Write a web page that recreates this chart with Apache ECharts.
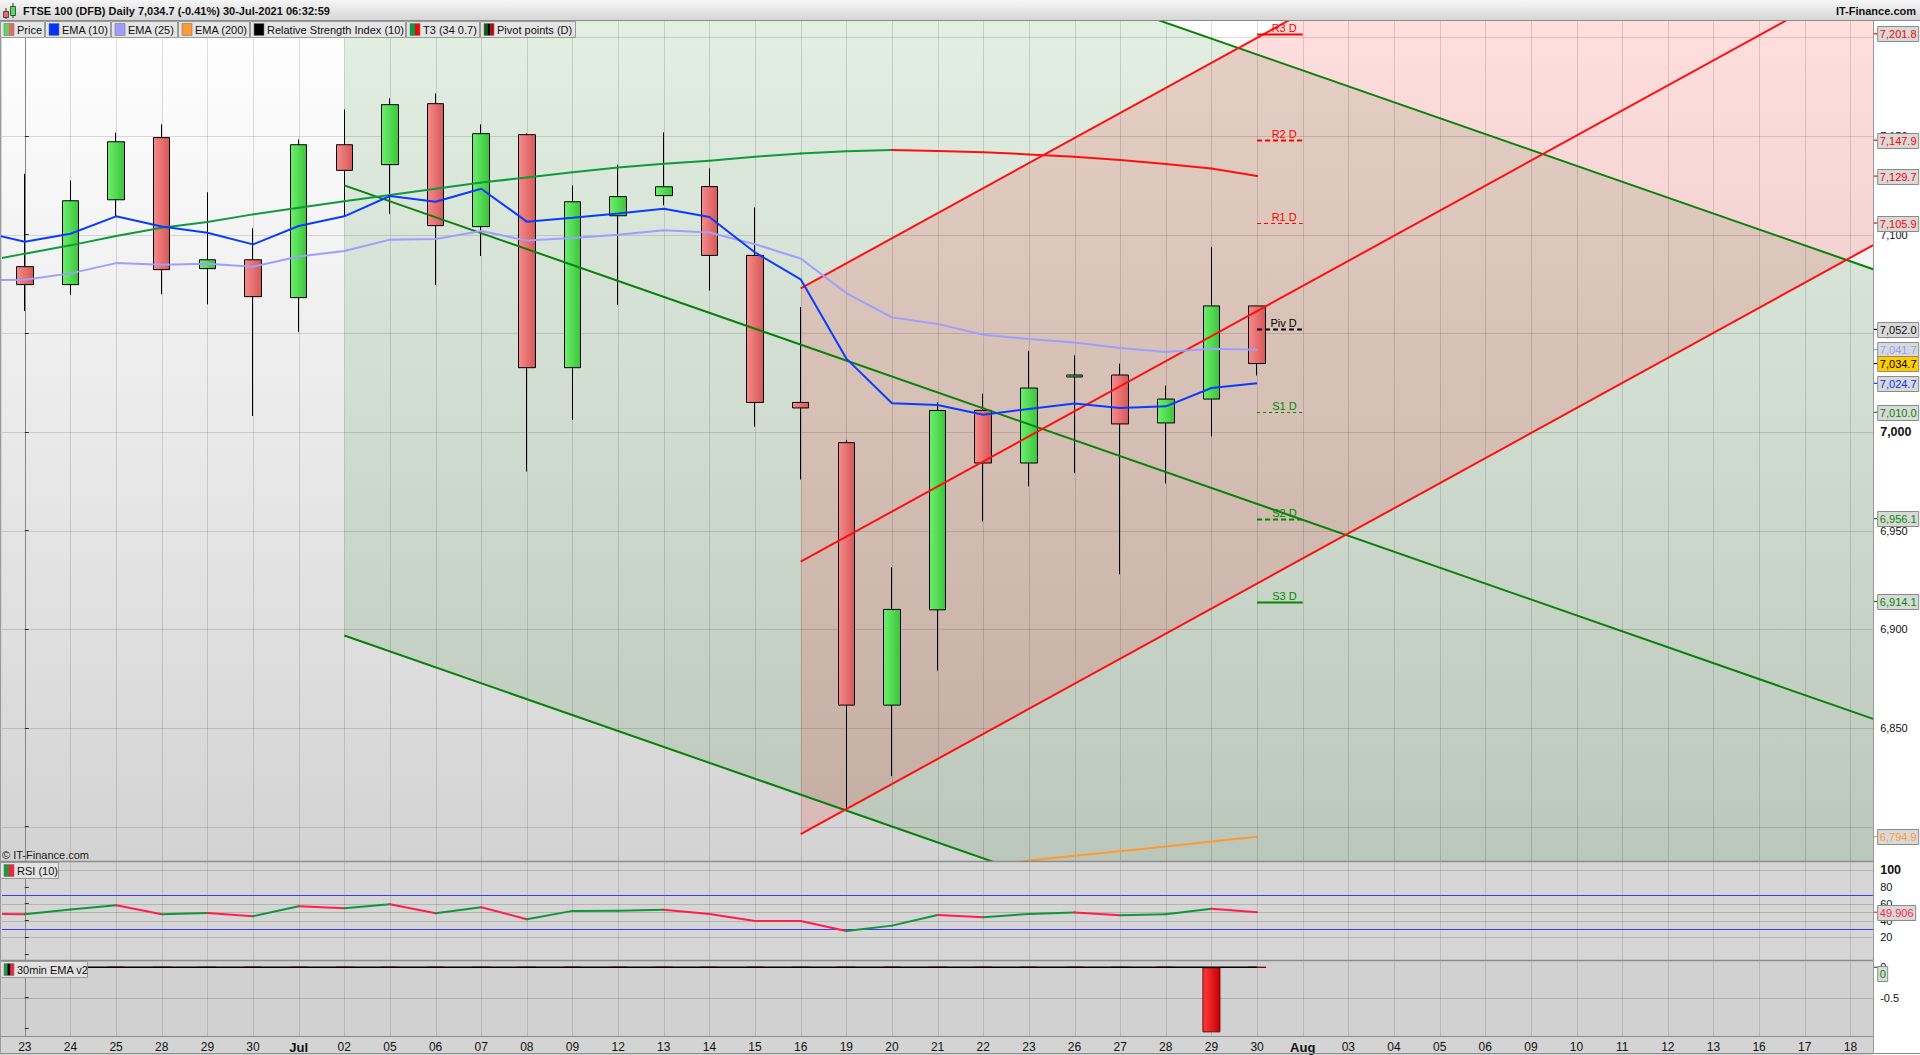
<!DOCTYPE html>
<html>
<head>
<meta charset="utf-8">
<title>FTSE 100 (DFB) Daily</title>
<script src="https://cdn.jsdelivr.net/npm/echarts@6.0.0/dist/echarts.min.js"></script>
<style>
html,body{margin:0;padding:0;background:#d4d4d4;overflow:hidden;}
#chart{width:1920px;height:1055px;}
</style>
</head>
<body>
<div id="chart"></div>
<script>
// ================= DATA =================
const tradingDays = [
  '2021-06-23','2021-06-24','2021-06-25','2021-06-28','2021-06-29','2021-06-30',
  '2021-07-01','2021-07-02','2021-07-05','2021-07-06','2021-07-07','2021-07-08','2021-07-09',
  '2021-07-12','2021-07-13','2021-07-14','2021-07-15','2021-07-16','2021-07-19','2021-07-20',
  '2021-07-21','2021-07-22','2021-07-23','2021-07-26','2021-07-27','2021-07-28','2021-07-29',
  '2021-07-30','2021-08-02','2021-08-03','2021-08-04','2021-08-05','2021-08-06','2021-08-09',
  '2021-08-10','2021-08-11','2021-08-12','2021-08-13','2021-08-16','2021-08-17','2021-08-18'
];
const candleOpen  = [7083.8,7074.7,7117.7,7149.2,7082.8,7087.3,7068.1,7145.6,7135.5,7166.4,7104.1,7150.7,7032.6,7109.6,7119.8,7124.4,7089.5,7015.0,6994.6,6861.6,6909.9,7011.0,6984.3,7027.9,7028.9,7004.6,7016.7,7063.9];
const candleClose = [7074.7,7117.2,7147.1,7082.3,7087.3,7068.6,7145.6,7132.6,7165.9,7104.6,7151.2,7032.6,7116.7,7119.3,7124.3,7089.5,7015.0,7012.2,6861.6,6910.1,7010.9,6984.3,7022.3,7028.9,7004.1,7016.7,7063.9,7034.7];
const candleLow   = [7061.3,7069.4,7109.3,7069.8,7064.7,7008.1,7050.7,7109.3,7110.5,7074.5,7089.2,6980.0,7006.1,7064.4,7114.9,7071.7,7002.7,6976.0,6808.9,6825.6,6879.1,6954.7,6972.5,6979.1,6927.9,6974.0,6997.8,7028.7];
const candleHigh  = [7130.9,7127.5,7151.7,7155.9,7121.5,7103.2,7148.3,7163.5,7169.1,7171.6,7155.9,7151.4,7125.0,7135.5,7151.9,7133.6,7113.8,7063.3,6996.0,6931.6,7015.0,7019.4,7041.2,7038.9,7034.6,7023.5,7093.9,7063.9];

// indicator positions (-1 = 22 Jun, only partly visible at the left edge)
const indicatorX = [-1,0,1,2,3,4,5,6,7,8,9,10,11,12,13,14,15,16,17,18,19,20,21,22,23,24,25,26,27];
const ema10 = [7101.8,7096.4,7100.5,7109.3,7104.2,7101.0,7095.1,7104.4,7109.3,7119.6,7116.7,7123.3,7106.6,7108.6,7110.8,7113.1,7109.0,7091.0,7077.4,7037.2,7014.6,7013.7,7008.8,7011.7,7014.4,7012.2,7013.0,7022.3,7024.7];
const ema25 = [7077.0,7077.2,7080.4,7085.6,7084.8,7085.3,7083.8,7089.0,7091.7,7097.5,7097.8,7101.9,7097.0,7098.3,7100.0,7102.2,7101.1,7095.2,7087.9,7070.4,7058.1,7054.8,7049.3,7047.1,7045.4,7042.6,7040.5,7042.2,7041.7];
const t3    = [7085.9,7090.4,7094.6,7099.3,7103.5,7106.4,7110.3,7113.7,7116.9,7120.1,7123.3,7126.4,7129.0,7131.6,7134.1,7135.9,7137.5,7139.5,7141.2,7142.3,7142.9,7142.4,7141.8,7140.7,7139.5,7137.9,7135.8,7133.5,7129.7];
const ema200X = [20,21,22,23,24,25,26,27];
const ema200  = [6778.0,6780.4,6782.8,6785.2,6787.6,6790.0,6792.5,6794.9];
const rsi10 = [48.0,47.5,53.0,58.2,47.5,49.1,45.1,57.0,54.7,59.4,48.7,55.9,41.6,51.5,51.7,52.7,47.9,39.6,39.5,27.7,34.0,46.7,44.0,47.9,49.5,46.4,47.6,53.9,49.906];
const ema30Bars = [0,0,0,0,0,0,0,0,0,0,0,0,0,0,0,0,0,0,0,0,0,0,0,0,0,0,-1.07,0];
const ema30Line = [0,0,0,0,0,0,0,0,0,0,0,0,0,0,0,0,0,0,0,0,0,0,0,0,0,0,0,0,0];

const pivotNames  = ['R3 D','R2 D','R1 D','Piv D','S1 D','S2 D','S3 D'];
const pivotValues = [7201.8,7147.9,7105.9,7052.0,7010.0,6956.1,6914.1];
const pivotFrom = 27, pivotTo = 28;

// trend channel lines: [x0, y0, x1, y1]
const greenUpper = [7, 7352.5, 40.5, 7082.5];
const greenMid   = [7, 7125.0, 40.5, 6854.6];
const greenLower = [7, 6896.9, 40.5, 6626.6];
const redUpper   = [17, 7072.8, 40.5, 7371.3];
const redMid     = [17, 6934.3, 40.5, 7232.8];
const redLower   = [17, 6796.2, 40.5, 7094.7];

const priceTicks = [6850,6900,6950,7000,7050,7100,7150];
const priceGridLevels = [6800,6850,6900,6950,7000,7050,7100,7150,7200];
const rsiTicks = [20,40,60,80,100];
const rsiGridLevels = [100,60,50,40,20];
const rsiBands = [70,30];
const emaTicks = [0,-0.5];
const emaGridLevels = [-0.5];

// ================= LAYOUT / STYLE =================
const FONT = '"Liberation Sans", Arial, Helvetica, sans-serif';
const X0 = -0.5, X1 = 40.5;
const P_MIN = 6782.6, P_MAX = 7208.3;
const R_MIN = -6.8, R_MAX = 110.7;
const E_MIN = -1.13, E_MAX = 0.12;
const GL = 2, GR = 46.8;
const monthNames = ['Jan','Feb','Mar','Apr','May','Jun','Jul','Aug','Sep','Oct','Nov','Dec'];
const LG = echarts.graphic.LinearGradient;

function tickLabel(i){
  const d = tradingDays[i];
  if (i > 0 && tradingDays[i-1].slice(5,7) !== d.slice(5,7)) return '{b|' + monthNames[+d.slice(5,7)-1] + '}';
  return d.slice(8);
}
function fmt1(v){ return v.toLocaleString('en-US',{minimumFractionDigits:1,maximumFractionDigits:1}); }
function textW(s){ let w=0; for (const ch of s) w += (ch===','||ch==='.') ? 3.1 : (ch==='-' ? 3.7 : 6.12); return w; }

function clipPolyY(pts, ymin, ymax){
  function clip(poly, inside, cross){
    const out = [];
    for (let i=0;i<poly.length;i++){
      const a = poly[i], b = poly[(i+1)%poly.length];
      const ia = inside(a), ib = inside(b);
      if (ia) out.push(a);
      if (ia !== ib) out.push(cross(a,b));
    }
    return out;
  }
  const at = (a,b,y)=>[a[0]+(b[0]-a[0])*(y-a[1])/(b[1]-a[1]), y];
  let p = clip(pts, q=>q[1]>=ymin, (a,b)=>at(a,b,ymin));
  p = clip(p, q=>q[1]<=ymax, (a,b)=>at(a,b,ymax));
  return p;
}
function channelPoly(lo, hi){
  return [[lo[0],lo[1]],[lo[2],lo[3]],[hi[2],hi[3]],[hi[0],hi[1]]];
}
function fillSeries(lo, hi, color){
  return {type:'custom', xAxisIndex:1, yAxisIndex:0, z:1, silent:true, data:[[20,7000]],
    encode:{x:0,y:1},
    renderItem:(params, api)=>{
      const pts = clipPolyY(channelPoly(lo,hi), P_MIN, P_MAX).map(p=>api.coord(p));
      return {type:'polygon', shape:{points:pts}, style:{fill:color}};
    }};
}
function vGridSeries(xi, yi, yRef, color){
  return {type:'custom', xAxisIndex:xi, yAxisIndex:yi, z:2, silent:true,
    data: tradingDays.map((d,i)=>[i,yRef]), encode:{x:0,y:1},
    renderItem:(params, api)=>{
      const cs = params.coordSys;
      const x = Math.round(api.coord([api.value(0), yRef])[0]) + 0.5;
      return {type:'line', shape:{x1:x,y1:cs.y,x2:x,y2:cs.y+cs.height}, style:{stroke:color,lineWidth:1}};
    }};
}
function hGridSeries(xi, yi, levels, color, width){
  return {type:'custom', xAxisIndex:xi, yAxisIndex:yi, z:2, silent:true,
    data: levels.map(v=>[0,v]), encode:{x:0,y:1},
    renderItem:(params, api)=>{
      const cs = params.coordSys;
      const y = Math.round(api.coord([0, api.value(1)])[1]) + 0.5;
      return {type:'line', shape:{x1:cs.x,y1:y,x2:cs.x+cs.width,y2:y}, style:{stroke:color,lineWidth:width}};
    }};
}
function segSeries(xi, yi, xs, ys, up, down, w, z){
  const data = [];
  for (let i=1;i<xs.length;i++) data.push([xs[i], ys[i], xs[i-1], ys[i-1]]);
  return {type:'custom', xAxisIndex:xi, yAxisIndex:yi, z:z, silent:true, clip:true, data, encode:{x:[0,2],y:[1,3]},
    renderItem:(params, api)=>{
      const p0 = api.coord([api.value(2), api.value(3)]);
      const p1 = api.coord([api.value(0), api.value(1)]);
      const isUp = api.value(1) > api.value(3);
      return {type:'line', shape:{x1:p0[0],y1:p0[1],x2:p1[0],y2:p1[1]}, style:{stroke:isUp?up:down, lineWidth:w, lineCap:'round'}};
    }};
}
function lineSeries(xi, yi, xs, ys, color, w, z){
  return {type:'line', xAxisIndex:xi, yAxisIndex:yi, data: xs.map((x,i)=>[x, ys[i]]), symbol:'none',
    silent:true, z:z, clip:true, lineStyle:{color:color, width:w}, animation:false};
}
function trendSeries(seg, color){
  return lineSeries(1, 0, [seg[0], seg[2]], [seg[1], seg[3]], color, 2, 4);
}
function tagSeries(xi, yi, values, styles, textFn, offset){
  return {type:'custom', xAxisIndex:xi, yAxisIndex:yi, z:20, silent:true, clip:false,
    data: values.map(v=>[0,v]), encode:{x:0,y:1},
    renderItem:(params, api)=>{
      const cs = params.coordSys;
      const st = styles[params.dataIndex];
      const v = api.value(1);
      const y0 = api.coord([0, v])[1];
      const y = y0 + (offset||0);
      const xr = cs.x + cs.width;
      const txt = textFn(v);
      const w = Math.round(textW(txt) + 4);
      return {type:'group', children:[
        {type:'line', shape:{x1:xr, y1:y0, x2:xr+5, y2:y0}, style:{stroke:st.c, lineWidth:1.2}},
        {type:'rect', shape:{x:xr+4.5, y:Math.round(y-7.5)+0.5, width:w, height:15}, style:{fill:st.bg||'#d9d9d9', stroke:'#8a8a8a', lineWidth:1}},
        {type:'text', style:{text:txt, x:xr+4.5+w/2, y:y+0.5, align:'center', verticalAlign:'middle', fill:st.c, fontSize:11, fontFamily:FONT}}
      ]};
    }};
}

const redCandle = new LG(0,0,1,0,[{offset:0,color:'#f78a8a'},{offset:1,color:'#d65858'}]);
const greenCandle = new LG(0,0,1,0,[{offset:0,color:'#6cf06c'},{offset:1,color:'#3cc43c'}]);

const mainTagValues = [pivotValues[0], pivotValues[1], t3[t3.length-1], pivotValues[2], pivotValues[3],
  ema25[ema25.length-1], candleClose[candleClose.length-1], ema10[ema10.length-1],
  pivotValues[4], pivotValues[5], pivotValues[6], ema200[ema200.length-1]];
const mainTagStyles = [{c:'#ff0000'},{c:'#ff0000'},{c:'#ff0000'},{c:'#ff0000'},{c:'#111111'},
  {c:'#9a9aff'},{c:'#000000',bg:'#ffcc00'},{c:'#0033ff'},
  {c:'#008a00'},{c:'#008a00'},{c:'#008a00'},{c:'#ff9933'}];

const pivotColors = ['#ff0000','#ff0000','#ff0000','#000000','#008a00','#008a00','#008a00'];
const pivotDash   = [null,[5,3],[4,3],[5,3],[3,3],[5,3],null];
const pivotWidth  = [2,2,1,2,1,2,2];

// ================= CHART =================
const chart = echarts.init(document.getElementById('chart'), null, {renderer:'svg', width:1920, height:1055});

function legendBox(x, y, w, colors, text){
  const els = [
    {type:'rect', shape:{x:x+0.5, y:y+0.5, width:w, height:16}, style:{fill:'rgba(228,228,228,0.95)', stroke:'#9a9a9a', lineWidth:1}, z:60},
  ];
  const sw = 10 / colors.length;
  colors.forEach((c,i)=>els.push({type:'rect', shape:{x:x+4+i*sw, y:y+2.5, width:sw, height:12}, style:{fill:c}, z:61}));
  els.push({type:'rect', shape:{x:x+4, y:y+2.5, width:10, height:12}, style:{fill:'none', stroke:'#777', lineWidth:0.6}, z:62});
  els.push({type:'text', x:x+17, y:y+9, style:{text:text, fill:'#111', fontSize:11, fontFamily:FONT, verticalAlign:'middle'}, z:62});
  return els;
}

const graphics = [
  // right axis area
  {type:'rect', shape:{x:1873, y:20, width:47, height:1035}, style:{fill:'#ffffff'}, z:-5, silent:true},
  // header bar
  {type:'rect', shape:{x:0, y:0, width:1920, height:20}, style:{fill:new LG(0,0,0,1,[{offset:0,color:'#f6f6f6'},{offset:1,color:'#d6d6d6'}])}, z:50},
  {type:'line', shape:{x1:0,y1:20.5,x2:1920,y2:20.5}, style:{stroke:'#8c8c8c', lineWidth:1}, z:51},
  // header icon
  {type:'line', shape:{x1:6,y1:8,x2:6,y2:19}, style:{stroke:'#333',lineWidth:1}, z:52},
  {type:'rect', shape:{x:3.5,y:11.5,width:5,height:6}, style:{fill:'#ee6a6a',stroke:'#333',lineWidth:0.8}, z:53},
  {type:'line', shape:{x1:13,y1:3,x2:13,y2:18}, style:{stroke:'#333',lineWidth:1}, z:52},
  {type:'rect', shape:{x:10.5,y:6.5,width:5,height:9}, style:{fill:'#55dd55',stroke:'#333',lineWidth:0.8}, z:53},
  {type:'text', x:23, y:11, style:{text:'FTSE 100 (DFB) Daily 7,034.7 (-0.41%) 30-Jul-2021 06:32:59', fill:'#111', fontSize:11, fontWeight:'bold', fontFamily:FONT, verticalAlign:'middle'}, z:53},
  {type:'text', x:1916, y:11, style:{text:'IT-Finance.com', fill:'#111', fontSize:11, fontWeight:'bold', fontFamily:FONT, verticalAlign:'middle', align:'right'}, z:53},
  // panel separators
  {type:'line', shape:{x1:0,y1:861.5,x2:1873,y2:861.5}, style:{stroke:'#8c8c8c', lineWidth:1.5}, z:40},
  {type:'line', shape:{x1:0,y1:960.5,x2:1873,y2:960.5}, style:{stroke:'#8c8c8c', lineWidth:1.5}, z:40},
  {type:'line', shape:{x1:0,y1:1036.5,x2:1873,y2:1036.5}, style:{stroke:'#8c8c8c', lineWidth:1}, z:40},
  {type:'line', shape:{x1:0,y1:1053.5,x2:1920,y2:1053.5}, style:{stroke:'#8c8c8c', lineWidth:1}, z:40},
  {type:'line', shape:{x1:1873.5,y1:20,x2:1873.5,y2:1054}, style:{stroke:'#9a9a9a', lineWidth:1}, z:40},
  {type:'line', shape:{x1:0.5,y1:20,x2:0.5,y2:1054}, style:{stroke:'#9a9a9a', lineWidth:1}, z:40},
  // copyright
  {type:'text', x:2, y:855, style:{text:'\u00a9 IT-Finance.com', fill:'#1a1a1a', fontSize:11, fontFamily:FONT, verticalAlign:'middle'}, z:60},
];
legendBox(0,21,44,['#5cd65c','#e46a6a'],'Price').forEach(e=>graphics.push(e));
legendBox(45,21,65,['#0033ff'],'EMA (10)').forEach(e=>graphics.push(e));
legendBox(111,21,66,['#9e9eff'],'EMA (25)').forEach(e=>graphics.push(e));
legendBox(178,21,71,['#ff9933'],'EMA (200)').forEach(e=>graphics.push(e));
legendBox(250,21,155,['#000000'],'Relative Strength Index (10)').forEach(e=>graphics.push(e));
legendBox(406,21,73,['#00a040','#ff0000'],'T3 (34 0.7)').forEach(e=>graphics.push(e));
legendBox(480,21,95,['#006600','#000000','#cc0000'],'Pivot points (D)').forEach(e=>graphics.push(e));
legendBox(0,862,58,['#1a9a3a','#ff2040'],'RSI (10)').forEach(e=>graphics.push(e));
legendBox(0,961,87,['#1a9a3a','#000000','#ff2040'],'30min EMA v2').forEach(e=>graphics.push(e));

const axisLabelBase = {color:'#111', fontSize:11, fontFamily:FONT, margin:7};

const option = {
  animation:false,
  backgroundColor:'#d4d4d4',
  textStyle:{fontFamily:FONT},
  graphic:{elements:graphics},
  grid:[
    {left:GL, right:GR, top:21, height:840, show:true, borderWidth:0,
     backgroundColor:new LG(0,0,0,1,[{offset:0,color:'#ffffff'},{offset:1,color:'#d3d3d3'}])},
    {left:GL, right:GR, top:861, height:99, show:true, borderWidth:0, backgroundColor:'#d6d6d6'},
    {left:GL, right:GR, top:960, height:76, show:true, borderWidth:0, backgroundColor:'#d1d1d1'}
  ],
  xAxis:[
    {type:'category', gridIndex:0, data:tradingDays, boundaryGap:true, show:false},
    {type:'value', gridIndex:0, min:X0, max:X1, show:false},
    {type:'value', gridIndex:1, min:X0, max:X1, show:false},
    {type:'category', gridIndex:2, data:tradingDays, boundaryGap:true,
     axisLine:{show:false}, axisTick:{show:false}, splitLine:{show:false},
     axisLabel:{interval:0, color:'#111', fontSize:12, fontFamily:FONT, margin:5,
       formatter:(v,i)=>tickLabel(i), rich:{b:{fontWeight:'bold', fontSize:13, fontFamily:FONT, color:'#111'}}}},
    {type:'value', gridIndex:2, min:X0, max:X1, show:false}
  ],
  yAxis:[
    {type:'value', gridIndex:0, position:'right', min:P_MIN, max:P_MAX, splitNumber:8,
     axisLine:{show:true, lineStyle:{color:'#9a9a9a'}}, axisTick:{show:true, length:4, lineStyle:{color:'#333'}},
     splitLine:{show:false},
     axisLabel:Object.assign({}, axisLabelBase, {
       formatter:v=>{ const r=Math.round(v*10)/10; if(!priceTicks.includes(r)) return ''; const s=r.toLocaleString('en-US'); return r===7000?'{b|'+s+'}':s; },
       rich:{b:{fontWeight:'bold', fontSize:12.5, fontFamily:FONT, color:'#111'}}})},
    {type:'value', gridIndex:1, position:'right', min:R_MIN, max:R_MAX, splitNumber:6,
     axisLine:{show:true, lineStyle:{color:'#9a9a9a'}}, axisTick:{show:true, length:4, lineStyle:{color:'#333'}},
     splitLine:{show:false},
     axisLabel:Object.assign({}, axisLabelBase, {
       formatter:v=>{ const r=Math.round(v); if(!rsiTicks.includes(r) || Math.abs(v-r)>0.01) return ''; return r===100?'{b|100}':String(r); },
       rich:{b:{fontWeight:'bold', fontSize:12.5, fontFamily:FONT, color:'#111'}}})},
    {type:'value', gridIndex:2, position:'right', min:E_MIN, max:E_MAX, splitNumber:3,
     axisLine:{show:true, lineStyle:{color:'#9a9a9a'}}, axisTick:{show:true, length:4, lineStyle:{color:'#333'}},
     splitLine:{show:false},
     axisLabel:Object.assign({}, axisLabelBase, {
       formatter:v=>{ const r=Math.round(v*100)/100; return emaTicks.includes(r)?String(r):''; }})}
  ],
  series:[
    // channel fills
    fillSeries(greenLower, greenUpper, 'rgba(0,105,0,0.11)'),
    fillSeries(redLower, redUpper, 'rgba(255,0,0,0.13)'),
    // grid lines
    vGridSeries(1, 0, 7000, 'rgba(0,0,0,0.13)'),
    hGridSeries(1, 0, priceGridLevels, 'rgba(0,0,0,0.13)', 1),
    vGridSeries(2, 1, 50, 'rgba(0,0,0,0.12)'),
    hGridSeries(2, 1, rsiGridLevels, 'rgba(0,0,0,0.16)', 1),
    hGridSeries(2, 1, rsiBands, '#3a3aff', 1),
    vGridSeries(4, 2, 0, 'rgba(0,0,0,0.12)'),
    hGridSeries(4, 2, emaGridLevels, 'rgba(0,0,0,0.16)', 1),
    // candles
    {type:'candlestick', xAxisIndex:0, yAxisIndex:0, z:3, barWidth:17, silent:true,
     data: candleOpen.map((o,i)=>[o, candleClose[i], candleLow[i], candleHigh[i]]),
     itemStyle:{color:greenCandle, color0:redCandle, borderColor:'#000', borderColor0:'#000', borderColorDoji:'#000', borderWidth:1}},
    // trend channels
    trendSeries(greenUpper, '#0a800a'),
    trendSeries(greenMid, '#0a800a'),
    trendSeries(greenLower, '#0a800a'),
    trendSeries(redUpper, '#ff1010'),
    trendSeries(redMid, '#ff1010'),
    trendSeries(redLower, '#ff1010'),
    // moving averages
    lineSeries(1, 0, ema200X, ema200, '#ff9933', 2, 5),
    lineSeries(1, 0, indicatorX, ema25, '#9e9eff', 2, 5),
    lineSeries(1, 0, indicatorX, ema10, '#0a3cff', 2, 6),
    segSeries(1, 0, indicatorX, t3, '#0f9a3c', '#ff1010', 2, 6),
    // pivot points
    {type:'custom', xAxisIndex:1, yAxisIndex:0, z:7, silent:true, clip:false,
     data: pivotValues.map(v=>[pivotFrom, v, pivotTo]), encode:{x:[0,2], y:1},
     renderItem:(params, api)=>{
       const i = params.dataIndex;
       const a = api.coord([api.value(0), api.value(1)]);
       const b = api.coord([api.value(2), api.value(1)]);
       const y = Math.round(a[1]) + 0.5;
       return {type:'group', children:[
         {type:'line', shape:{x1:a[0], y1:y, x2:b[0], y2:y},
          style:{stroke:pivotColors[i], lineWidth:pivotWidth[i], lineDash:pivotDash[i]||null}},
         {type:'text', style:{text:pivotNames[i], x:b[0]-6, y:y-7, align:'right', verticalAlign:'middle',
          fill:pivotColors[i], fontSize:11, fontFamily:FONT}}
       ]};
     }},
    // price tags
    tagSeries(1, 0, mainTagValues, mainTagStyles, fmt1, 0),
    // RSI
    segSeries(2, 1, indicatorX, rsi10, '#12963a', '#ff1f4b', 2, 6),
    tagSeries(2, 1, [rsi10[rsi10.length-1]], [{c:'#ff1f4b'}], v=>v.toFixed(3), 0),
    // 30min EMA v2
    {type:'bar', xAxisIndex:3, yAxisIndex:2, z:4, barWidth:18, silent:true, data:ema30Bars,
     itemStyle:{color:new LG(0,0,1,0,[{offset:0,color:'#ff3c3c'},{offset:1,color:'#c40000'}]), borderColor:'#7a0000', borderWidth:1}},
    lineSeries(4, 2, indicatorX, ema30Line, '#000000', 1.5, 6),
    tagSeries(4, 2, [ema30Line[ema30Line.length-1]], [{c:'#008a00'}], v=>String(Math.round(v)), 6)
  ]
};
chart.setOption(option);
</script>
</body>
</html>
